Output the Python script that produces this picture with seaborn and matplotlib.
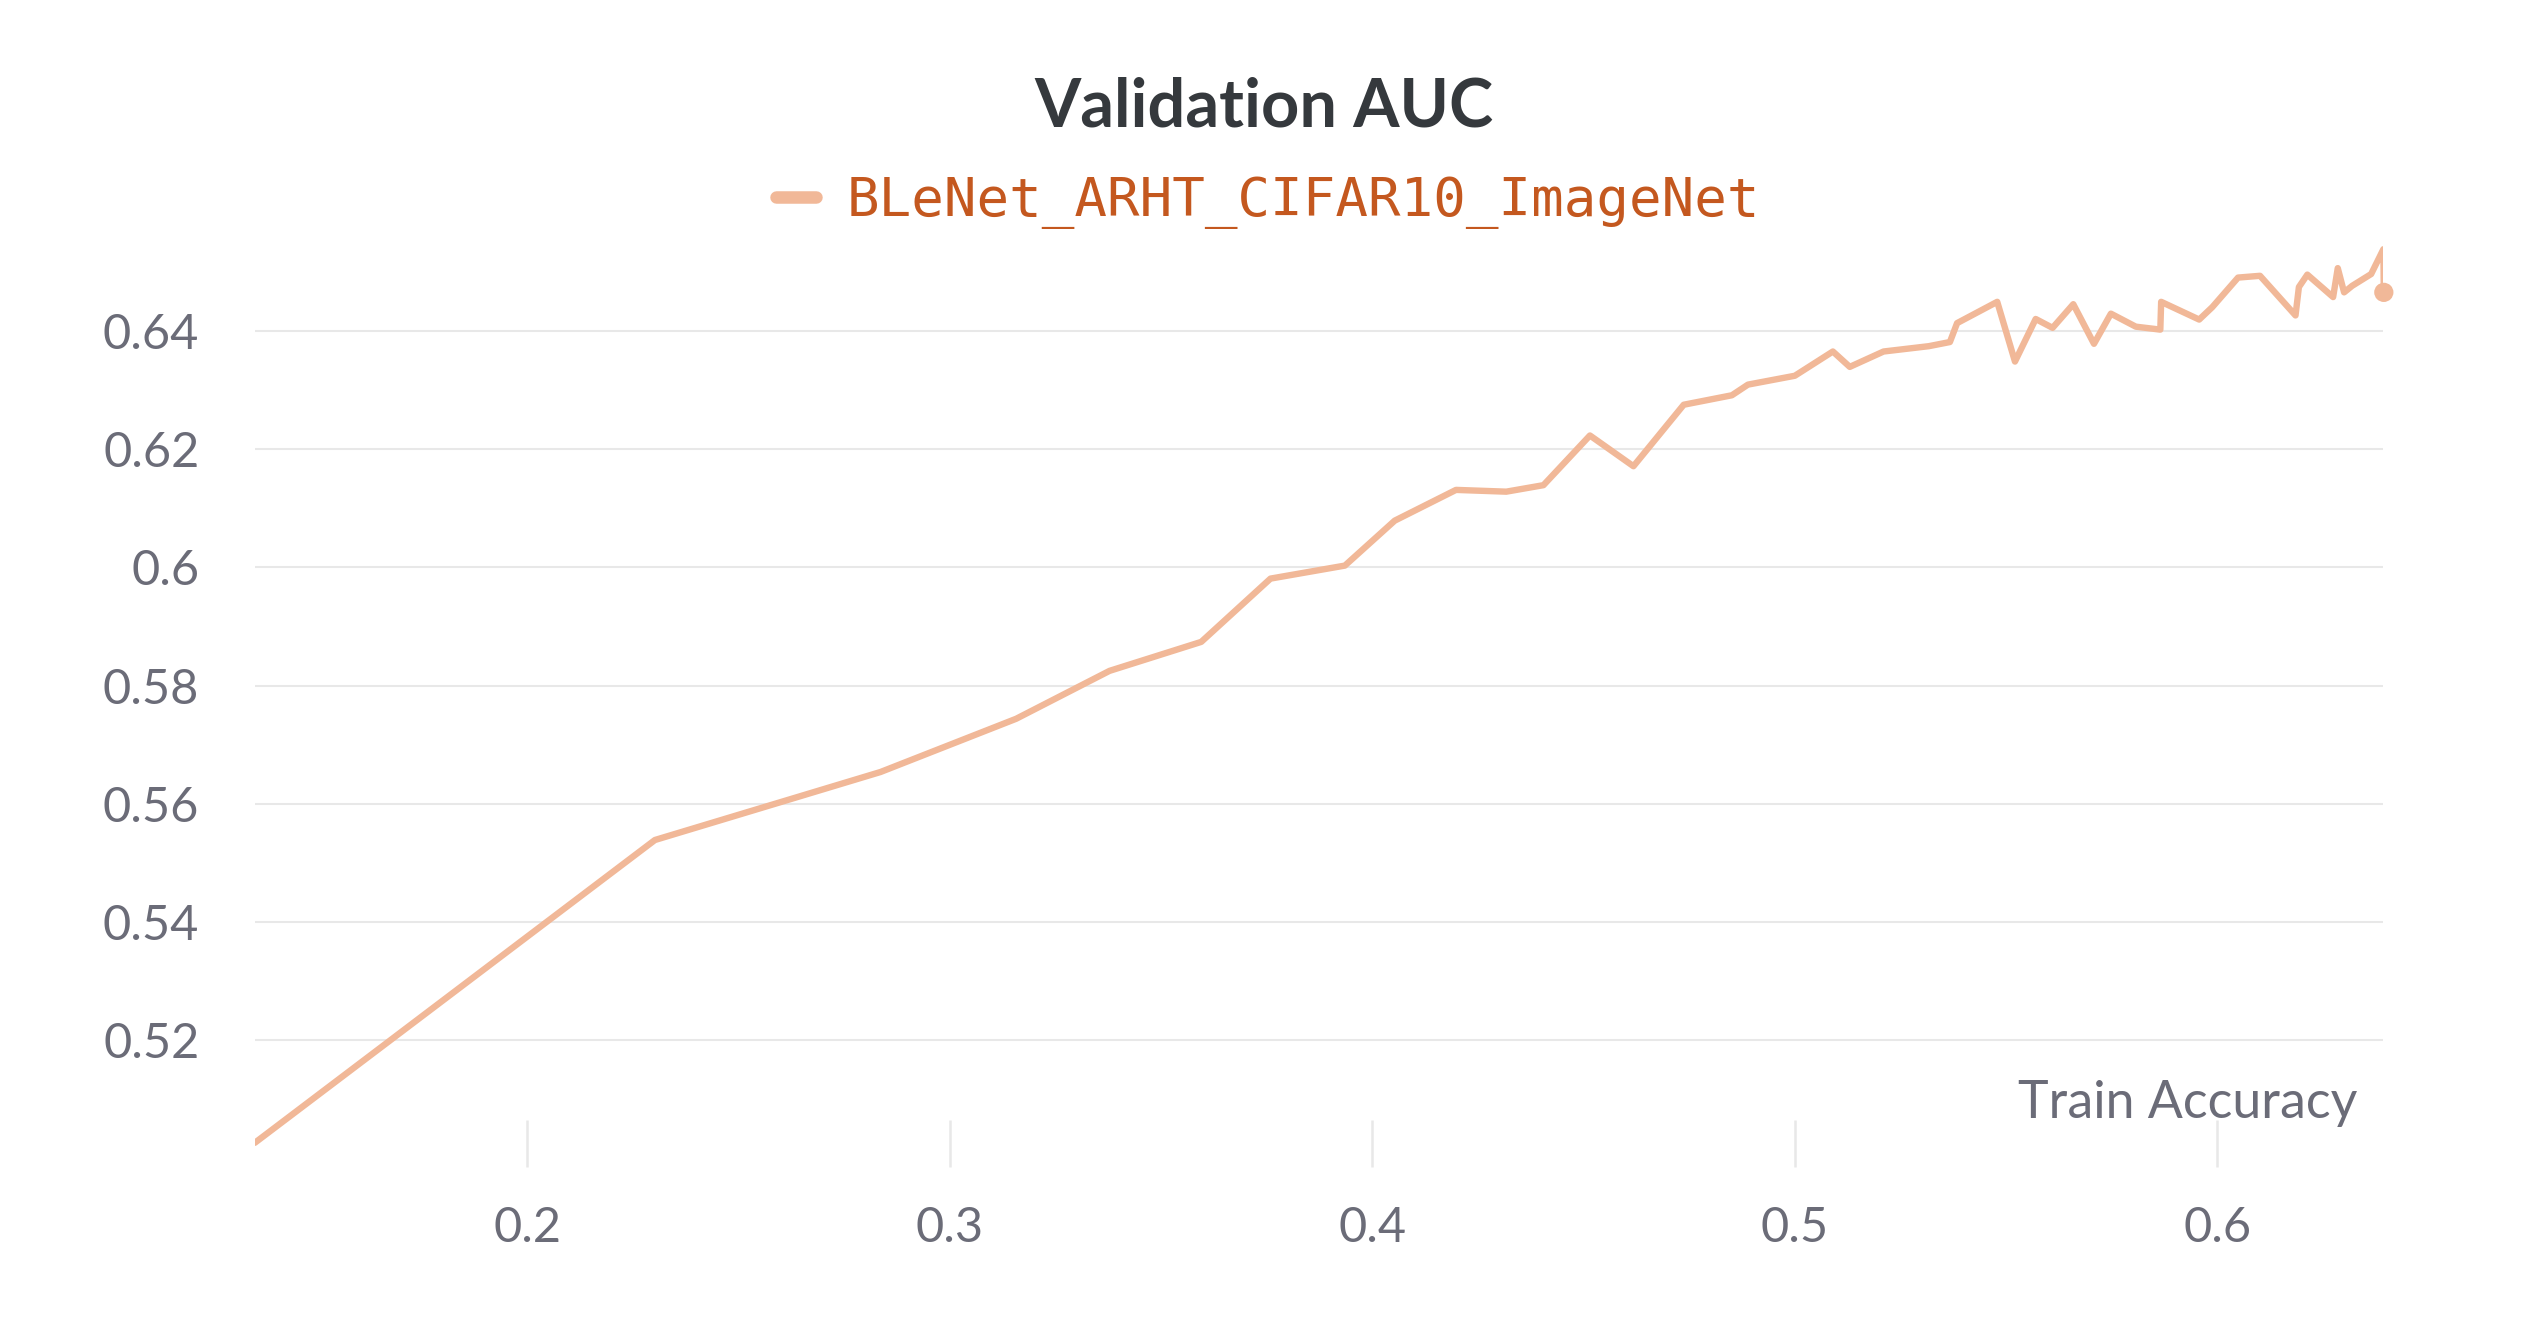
import pandas as pd
import matplotlib.pyplot as plt
from matplotlib.lines import Line2D
import seaborn as sns

sns.set_theme(style='white')
plt.rcParams['font.family'] = ['Lato', 'DejaVu Sans']

run_name = 'BLeNet_ARHT_CIFAR10_ImageNet'

train_acc = [
    0.1355, 0.2302, 0.2836, 0.3157, 0.3378, 0.3595, 0.3759, 0.3935, 0.4053, 0.4198,
    0.4317, 0.4405, 0.4515, 0.4618, 0.4737, 0.4851, 0.4889, 0.5000, 0.5090, 0.5130,
    0.5210, 0.5317, 0.5367, 0.5384, 0.5479, 0.5521, 0.5570, 0.5610, 0.5659, 0.5708,
    0.5748, 0.5807, 0.5865, 0.5867, 0.5957, 0.5988, 0.6049, 0.6101, 0.6185, 0.6193,
    0.6213, 0.6274, 0.6285, 0.6300, 0.6319, 0.6364, 0.6393, 0.6394,
]
val_auc = [
    0.5027, 0.5539, 0.5654, 0.5744, 0.5825, 0.5874, 0.5981, 0.6003, 0.6079, 0.6131,
    0.6128, 0.6139, 0.6223, 0.6171, 0.6275, 0.6291, 0.6309, 0.6324, 0.6365, 0.6339,
    0.6365, 0.6374, 0.6381, 0.6413, 0.6449, 0.6348, 0.6420, 0.6405, 0.6445, 0.6378,
    0.6429, 0.6407, 0.6402, 0.6449, 0.6419, 0.6440, 0.6490, 0.6493, 0.6426, 0.6474,
    0.6495, 0.6457, 0.6506, 0.6465, 0.6476, 0.6496, 0.6538, 0.6465,
]

y_ticks = [0.52, 0.54, 0.56, 0.58, 0.6, 0.62, 0.64]
y_tick_labels = ['0.52', '0.54', '0.56', '0.58', '0.6', '0.62', '0.64']
x_ticks = [0.2, 0.3, 0.4, 0.5, 0.6]
x_tick_labels = ['0.2', '0.3', '0.4', '0.5', '0.6']

df = pd.DataFrame({'Train Accuracy': train_acc, 'Validation AUC': val_auc})

line_color = '#f1b898'
text_gray = '#6b6c78'
grid_color = '#e8e8e8'

fig = plt.figure(figsize=(12.64, 6.64), dpi=200)
ax = fig.add_axes([0.1008, 0.1212, 0.8420, 0.6965])

sns.lineplot(data=df, x='Train Accuracy', y='Validation AUC', ax=ax, sort=False,
             estimator=None, color=line_color, linewidth=2.3)
sns.scatterplot(x=train_acc[-1:], y=val_auc[-1:], ax=ax, color=line_color, s=48,
                edgecolor='none', zorder=5, clip_on=False)

ax.set_xlim(0.1355, 0.6393)
ax.set_ylim(0.4986, 0.655)
ax.set_yticks(y_ticks)
ax.set_yticklabels(y_tick_labels)
ax.set_xticks(x_ticks)
ax.set_xticklabels(x_tick_labels)
ax.yaxis.grid(True, color=grid_color, linewidth=0.75)
ax.xaxis.grid(False)
ax.set_axisbelow(True)
for s in ax.spines.values():
    s.set_visible(False)
ax.tick_params(axis='y', length=0, pad=20, labelsize=17.5, labelcolor=text_gray)
ax.tick_params(axis='x', direction='in', length=17, width=0.9, color=grid_color,
               pad=14, labelsize=17.5, labelcolor=text_gray, bottom=True)
ax.set_xlabel('')
ax.set_ylabel('')

fig.text(0.9324, 0.1694, 'Train Accuracy', ha='right', va='center',
         fontsize=18.7, color=text_gray)
fig.text(0.5, 0.9188, 'Validation AUC', ha='center', va='center',
         fontsize=24, fontweight='bold', color='#35393d')

handle = Line2D([], [], color=line_color, linewidth=4.5, solid_capstyle='round')
fig.legend([handle], [run_name], loc='center', bbox_to_anchor=(0.5015, 0.8481),
           frameon=False, handlelength=0.75, handletextpad=0.55,
           labelcolor='#c4581f', prop={'family': 'DejaVu Sans Mono', 'size': 19.5})

fig.savefig('out.png', dpi=200)
